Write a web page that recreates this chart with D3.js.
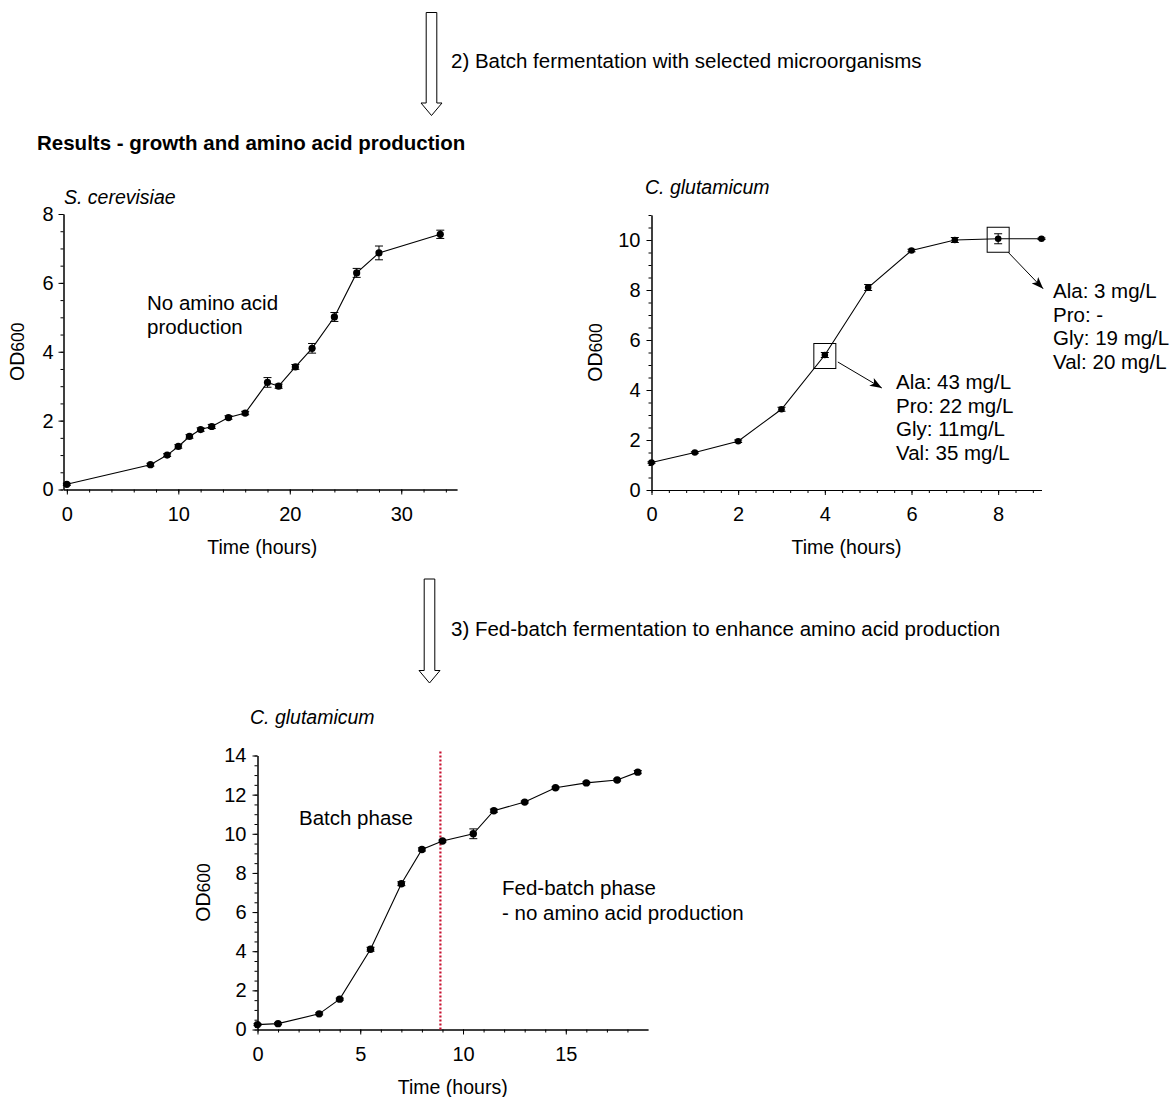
<!DOCTYPE html>
<html>
<head>
<meta charset="utf-8">
<script src="https://cdn.jsdelivr.net/npm/d3@7"></script>
<style>
  body { margin: 0; background: #fff; }
  svg { display: block; font-family: "Liberation Sans", Arial, sans-serif; }
</style>
</head>
<body>
<svg id="fig" width="1173" height="1097"></svg>
<script>
// S. cerevisiae, batch
const scerTime = [0, 7.5, 9, 10, 11, 12, 13, 14.5, 16, 18, 19, 20.5, 22, 24, 26, 28, 33.5];
const scerOD   = [0.15, 0.72, 1.0, 1.25, 1.54, 1.74, 1.83, 2.09, 2.22, 3.11, 3.0, 3.56, 4.10, 5.01, 6.29, 6.87, 7.41];
const scerErr  = [0.03, 0.04, 0.04, 0.05, 0.05, 0.05, 0.06, 0.05, 0.05, 0.14, 0.06, 0.07, 0.14, 0.13, 0.13, 0.2, 0.12];

// C. glutamicum, batch
const cgluTime = [0, 1, 2, 3, 4, 5, 6, 7, 8, 9];
const cgluOD   = [1.1, 1.5, 1.95, 3.23, 5.4, 8.1, 9.58, 10.0, 10.05, 10.05];
const cgluErr  = [0.03, 0.03, 0.05, 0.08, 0.1, 0.12, 0.05, 0.1, 0.2, 0.03];
const cgluBoxTimes = [4, 8];
const cgluNotes = [
  ["Ala: 43 mg/L", "Pro: 22 mg/L", "Gly: 11mg/L", "Val: 35 mg/L"],
  ["Ala: 3 mg/L", "Pro: -", "Gly: 19 mg/L", "Val: 20 mg/L"]
];

// C. glutamicum, fed-batch
const fedTime = [0, 1, 3, 4, 5.5, 7, 8, 9, 10.5, 11.5, 13, 14.5, 16, 17.5, 18.5];
const fedOD   = [0.25, 0.3, 0.8, 1.55, 4.1, 7.45, 9.2, 9.63, 10.0, 11.18, 11.62, 12.35, 12.6, 12.75, 13.15];
const fedErr  = [0.05, 0.05, 0.05, 0.05, 0.1, 0.1, 0.08, 0.05, 0.25, 0.08, 0.05, 0.05, 0.05, 0.05, 0.08];
const feedStart = 8.9;

const steps = [
  "2) Batch fermentation with selected microorganisms",
  "3) Fed-batch fermentation to enhance amino acid production"
];

const svg = d3.select('#fig');
const FS = 20;      // tick labels
const LFS = 19.5;   // axis titles
const NFS = 20.5;   // annotations

svg.append('defs').append('marker')
  .attr('id', 'head')
  .attr('markerUnits', 'userSpaceOnUse')
  .attr('markerWidth', 12).attr('markerHeight', 9)
  .attr('refX', 12).attr('refY', 4.5)
  .attr('orient', 'auto')
  .append('path').attr('d', 'M0,0 L12,4.5 L0,9 L3,4.5 z').attr('fill', '#000');

// big hollow process arrow with its caption
const stepArrow = (cx, top, bottom, label, labelY) => {
  const sw = 5.3, hw = 10.5, hh = 12.5;
  const pts = [
    [cx - sw, top], [cx + sw, top], [cx + sw, bottom - hh], [cx + hw, bottom - hh],
    [cx, bottom], [cx - hw, bottom - hh], [cx - sw, bottom - hh]
  ];
  svg.append('polygon')
    .attr('points', pts.map(p => p.join(',')).join(' '))
    .attr('fill', '#fff').attr('stroke', '#000').attr('stroke-width', 1);
  svg.append('text').attr('x', 451).attr('y', labelY)
    .attr('font-size', 20.5).text(label);
};

stepArrow(431.5, 12.5, 115.5, steps[0], 68);
stepArrow(429.5, 579, 683, steps[1], 636);

svg.append('text').attr('x', 37).attr('y', 150)
  .attr('font-size', 20.5).attr('font-weight', 'bold')
  .text('Results - growth and amino acid production');

const growthChart = (o) => {
  const x = d3.scaleLinear().domain(o.xDomain).range(o.xRange);
  const y = d3.scaleLinear().domain(o.yDomain).range(o.yRange);
  const g = svg.append('g');
  const axisY = o.yRange[0], axisX = o.xRange[0];

  g.append('g').attr('transform', `translate(0,${axisY})`)
    .call(d3.axisBottom(x).tickValues(o.xMinor).tickSize(3).tickFormat('').tickSizeOuter(0));
  g.append('g').attr('class', 'xmaj').attr('transform', `translate(0,${axisY})`)
    .call(d3.axisBottom(x).tickValues(o.xMajor).tickSize(5).tickPadding(12).tickSizeOuter(0));
  g.append('g').attr('transform', `translate(${axisX},0)`)
    .call(d3.axisLeft(y).tickValues(o.yMinor).tickSize(3).tickFormat('').tickSizeOuter(0));
  g.append('g').attr('class', 'ymaj').attr('transform', `translate(${axisX},0)`)
    .call(d3.axisLeft(y).tickValues(o.yMajor).tickSize(5).tickPadding(o.yPad).tickSizeOuter(0));

  g.selectAll('.tick text').attr('font-size', FS);
  g.selectAll('g').attr('font-family', null).attr('font-size', null);
  g.selectAll('.domain, .tick line').attr('stroke', '#000').attr('stroke-width', 1);

  // title & axis labels
  g.append('text').attr('x', o.titleX).attr('y', o.titleY)
    .attr('font-size', 19.5).attr('font-style', 'italic').text(o.title);
  g.append('text').attr('x', (o.xRange[0] + o.xRange[1]) / 2 + o.xLabelShift).attr('y', axisY + 64)
    .attr('text-anchor', 'middle').attr('font-size', LFS).text('Time (hours)');
  const yl = g.append('text')
    .attr('transform', `translate(${o.yLabelX},${(o.yRange[0] + o.yRange[1]) / 2}) rotate(-90)`)
    .attr('text-anchor', 'middle').attr('font-size', LFS);
  yl.append('tspan').text('OD');
  yl.append('tspan').attr('font-size', LFS * 0.9).text('600');

  const pts = o.time.map((t, i) => ({ t: t, v: o.od[i], e: o.err[i] }));

  g.append('path').attr('class', 'series').datum(pts)
    .attr('d', d3.line().x(d => x(d.t)).y(d => y(d.v)))
    .attr('fill', 'none').attr('stroke', '#000').attr('stroke-width', 1.1);

  const eb = g.selectAll('.eb').data(pts).enter().append('g').attr('class', 'eb')
    .attr('stroke', '#000').attr('stroke-width', 1);
  eb.append('line')
    .attr('x1', d => x(d.t)).attr('x2', d => x(d.t))
    .attr('y1', d => y(d.v - d.e)).attr('y2', d => y(d.v + d.e));
  eb.append('line')
    .attr('x1', d => x(d.t) - 4).attr('x2', d => x(d.t) + 4)
    .attr('y1', d => y(d.v - d.e)).attr('y2', d => y(d.v - d.e));
  eb.append('line')
    .attr('x1', d => x(d.t) - 4).attr('x2', d => x(d.t) + 4)
    .attr('y1', d => y(d.v + d.e)).attr('y2', d => y(d.v + d.e));

  g.selectAll('circle').data(pts).enter().append('circle')
    .attr('cx', d => x(d.t)).attr('cy', d => y(d.v)).attr('r', o.r).attr('fill', '#000');

  return { g: g, x: x, y: y };
};

const range = (a, b, s) => d3.range(Math.round((b - a) / s) + 1).map(i => +(a + i * s).toFixed(2));

// --- chart 1: S. cerevisiae
const c1 = growthChart({
  xDomain: [-0.3, 35], xRange: [63.5, 457],
  yDomain: [0, 8], yRange: [489.5, 214],
  xMajor: [0, 10, 20, 30], xMinor: range(0, 34, 2),
  yMajor: [0, 2, 4, 6, 8], yMinor: range(0, 8, 0.5),
  time: scerTime, od: scerOD, err: scerErr, r: 3.6, yPad: 5,
  title: 'S. cerevisiae', titleX: 64, titleY: 204,
  yLabelX: 24, xLabelShift: 2
});
c1.g.append('text').attr('font-size', NFS)
  .selectAll('tspan').data(['No amino acid', 'production']).enter().append('tspan')
  .attr('x', 147).attr('y', (d, i) => 309.5 + i * 24).text(d => d);

// --- chart 2: C. glutamicum batch
const c2 = growthChart({
  xDomain: [0, 9], xRange: [651.5, 1041.5],
  yDomain: [0, 11], yRange: [490, 215],
  xMajor: [0, 2, 4, 6, 8], xMinor: range(0, 8.8, 0.4),
  yMajor: [0, 2, 4, 6, 8, 10], yMinor: range(0, 11, 0.5),
  time: cgluTime, od: cgluOD, err: cgluErr, r: 3.3, yPad: 6,
  title: 'C. glutamicum', titleX: 645, titleY: 194,
  yLabelX: 602, xLabelShift: 0
});
const noteLayout = [
  { arrow: [13, 7, 57, 33], text: [896, 389] },
  { arrow: [10, 13.5, 45, 50], text: [1053, 298] }
];
cgluBoxTimes.forEach((t, k) => {
  const i = cgluTime.indexOf(t);
  const px = c2.x(t), py = c2.y(cgluOD[i]);
  const L = noteLayout[k];
  c2.g.append('rect').attr('x', px - 11).attr('y', py - 11.5)
    .attr('width', 22).attr('height', 25)
    .attr('fill', 'none').attr('stroke', '#000').attr('stroke-width', 1);
  c2.g.append('line')
    .attr('x1', px + L.arrow[0]).attr('y1', py + L.arrow[1])
    .attr('x2', px + L.arrow[2]).attr('y2', py + L.arrow[3])
    .attr('stroke', '#000').attr('stroke-width', 1).attr('marker-end', 'url(#head)');
  c2.g.append('text').attr('font-size', NFS)
    .selectAll('tspan').data(cgluNotes[k]).enter().append('tspan')
    .attr('x', L.text[0]).attr('y', (d, j) => L.text[1] + j * 23.7).text(d => d);
});

// --- chart 3: C. glutamicum fed-batch
const c3 = growthChart({
  xDomain: [0, 19], xRange: [257.5, 648],
  yDomain: [0, 14], yRange: [1029.5, 755.5],
  xMajor: [0, 5, 10, 15], xMinor: range(0, 18, 1),
  yMajor: [0, 2, 4, 6, 8, 10, 12, 14], yMinor: range(0, 14, 0.5),
  time: fedTime, od: fedOD, err: fedErr, r: 3.7, yPad: 6,
  title: 'C. glutamicum', titleX: 250, titleY: 724,
  yLabelX: 210, xLabelShift: 0
});
c3.g.insert('line', '.series')
  .attr('x1', c3.x(feedStart)).attr('x2', c3.x(feedStart))
  .attr('y1', c3.y(0)).attr('y2', c3.y(14.2))
  .attr('stroke', '#c8102e').attr('stroke-width', 2.2).attr('stroke-dasharray', '2,2');
c3.g.append('text').attr('x', 299).attr('y', 825).attr('font-size', NFS).text('Batch phase');
c3.g.append('text').attr('font-size', NFS)
  .selectAll('tspan').data(['Fed-batch phase', '- no amino acid production']).enter().append('tspan')
  .attr('x', 502).attr('y', (d, i) => 895 + i * 24.5).text(d => d);
</script>
</body>
</html>
